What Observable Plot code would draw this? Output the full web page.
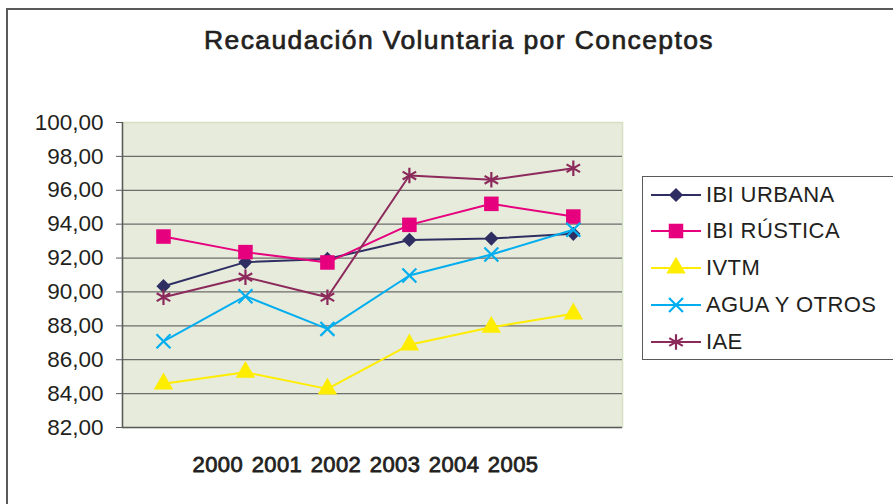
<!DOCTYPE html>
<html>
<head>
<meta charset="utf-8">
<script src="https://cdn.jsdelivr.net/npm/d3@7"></script>
<script src="https://cdn.jsdelivr.net/npm/@observablehq/plot@0.6"></script>
<style>
  html, body { margin: 0; padding: 0; background: #fff; }
  #chart { position: relative; width: 893px; height: 504px; overflow: hidden; background: #fff;
           font-family: "Liberation Sans", Arial, Helvetica, sans-serif; color: #231f20; }
  #border { position: absolute; left: 6px; top: 8px; width: 1000px; height: 600px;
            border-left: 2.5px solid #5a5a5a; border-top: 2.5px solid #5a5a5a; }
  #title { position: absolute; left: 0; width: 918px; top: 23px; text-align: center;
           font-size: 26.5px; font-weight: normal; line-height: 34px; letter-spacing: 1.4px;
           -webkit-text-stroke: 0.7px #231f20; }
  #plot { position: absolute; left: 0; top: 80px; }
  #xlabel { position: absolute; left: 0; width: 731px; top: 451px; text-align: center;
            font-size: 22px; font-weight: normal; line-height: 28px; word-spacing: 2px;
            letter-spacing: 0.4px; -webkit-text-stroke: 0.8px #231f20; }
  #legend { position: absolute; left: 642px; top: 176px; width: 300px; height: 182px;
            border: 1.5px solid #5a5a5a; background: #fff; }
  .row { position: absolute; left: 0; height: 37px; display: flex; align-items: center; }
  .row span { font-size: 22px; margin-left: 1px; letter-spacing: 0.4px; }
</style>
</head>
<body>
<div id="chart">
  <div id="border"></div>
  <div id="title">Recaudación Voluntaria por Conceptos</div>
  <div id="plot"></div>
  <div id="xlabel"></div>
  <div id="legend"></div>
</div>
<script>
// ---- data ----
const years = [2000, 2001, 2002, 2003, 2004, 2005];
const seriesNames = ["IBI URBANA", "IBI RÚSTICA", "IVTM", "AGUA Y OTROS", "IAE"];
const ibiUrbana  = [90.34, 91.76, 91.95, 93.07, 93.15, 93.43];
const ibiRustica = [93.27, 92.35, 91.74, 93.96, 95.20, 94.45];
const ivtm       = [84.58, 85.26, 84.28, 86.88, 87.92, 88.71];
const agua       = [87.09, 89.75, 87.82, 90.97, 92.21, 93.67];
const iae        = [89.69, 90.87, 89.69, 96.87, 96.62, 97.30];
const yTicks = [82, 84, 86, 88, 90, 92, 94, 96, 98, 100];
const gridTicks = [84, 86, 88, 90, 92, 94, 96, 98];

// ---- styles ----
const styles = [
  {color: "#2f2e62", symbol: "diamond2", r: 6.4, filled: true},
  {color: "#e6007e", symbol: "square",   r: 8.2, filled: true},
  {color: "#ffed00", symbol: "triangle", r: 7.2, filled: true},
  {color: "#00aeef", symbol: "times",    r: 6.4, filled: false},
  {color: "#8c2a5c", symbol: "asterisk", r: 7.4, filled: false}
];
const seriesValues = [ibiUrbana, ibiRustica, ivtm, agua, iae];

const rows = [];
seriesNames.forEach((name, si) => {
  years.forEach((yr, i) => rows.push({serie: name, year: yr, value: seriesValues[si][i]}));
});

const fmt = d => d3.format(".2f")(d).replace(".", ",");

const marks = [
  Plot.frame({fill: "#e6ebdc", stroke: "#d4e0c1", strokeWidth: 1.5}),
  Plot.ruleY(gridTicks, {stroke: "#6c6c6c", strokeWidth: 1.3}),
  Plot.ruleY([yTicks[0]], {stroke: "#5a5a5a", strokeWidth: 1.5}),
  Plot.ruleX([years[0] - 0.5], {stroke: "#5a5a5a", strokeWidth: 1.5}),
  Plot.axisY(yTicks, {tickSize: 6, tickPadding: 13, tickFormat: fmt, fontSize: 22.5,
                      stroke: "#5a5a5a", fill: "#231f20", label: null})
];
seriesNames.forEach((name, si) => {
  const st = styles[si];
  const data = rows.filter(d => d.serie === name);
  marks.push(Plot.line(data, {x: "year", y: "value", stroke: st.color, strokeWidth: 2}));
  marks.push(Plot.dot(data, {
    x: "year", y: "value", symbol: () => st.symbol, r: st.r,
    fill: st.filled ? st.color : "none",
    stroke: st.filled ? "none" : st.color,
    strokeWidth: st.filled ? 0 : 2.2
  }));
});

const chart = Plot.plot({
  width: 893,
  height: 424,
  marginLeft: 122,
  marginRight: 271,
  marginTop: 42,
  marginBottom: 77,
  style: {background: "transparent", fontFamily: "Liberation Sans, Arial, sans-serif"},
  x: {type: "linear", domain: [years[0] - 0.5, years[years.length - 1] + 0.6], axis: null},
  y: {domain: [yTicks[0], yTicks[yTicks.length - 1]], axis: null},
  symbol: {type: "identity"},
  marks
});
document.getElementById("plot").appendChild(chart);

document.getElementById("xlabel").textContent = years.join(" ");

// ---- legend ----
const legend = document.getElementById("legend");
const symMap = {diamond2: d3.symbolDiamond2, square: d3.symbolSquare, triangle: d3.symbolTriangle,
                times: d3.symbolTimes, asterisk: d3.symbolAsterisk};
seriesNames.forEach((name, si) => {
  const st = styles[si];
  const row = document.createElement("div");
  row.className = "row";
  row.style.top = (-1 + si * 36.8) + "px";
  const svg = d3.create("svg").attr("width", 62).attr("height", 30);
  svg.append("line").attr("x1", 8).attr("x2", 58).attr("y1", 15).attr("y2", 15)
     .attr("stroke", st.color).attr("stroke-width", 2);
  svg.append("path")
     .attr("transform", "translate(33,15)")
     .attr("d", d3.symbol(symMap[st.symbol], Math.PI * st.r * st.r)())
     .attr("fill", st.filled ? st.color : "none")
     .attr("stroke", st.filled ? "none" : st.color)
     .attr("stroke-width", st.filled ? 0 : 2.2);
  row.appendChild(svg.node());
  const label = document.createElement("span");
  label.textContent = name;
  row.appendChild(label);
  legend.appendChild(row);
});
</script>
</body>
</html>
